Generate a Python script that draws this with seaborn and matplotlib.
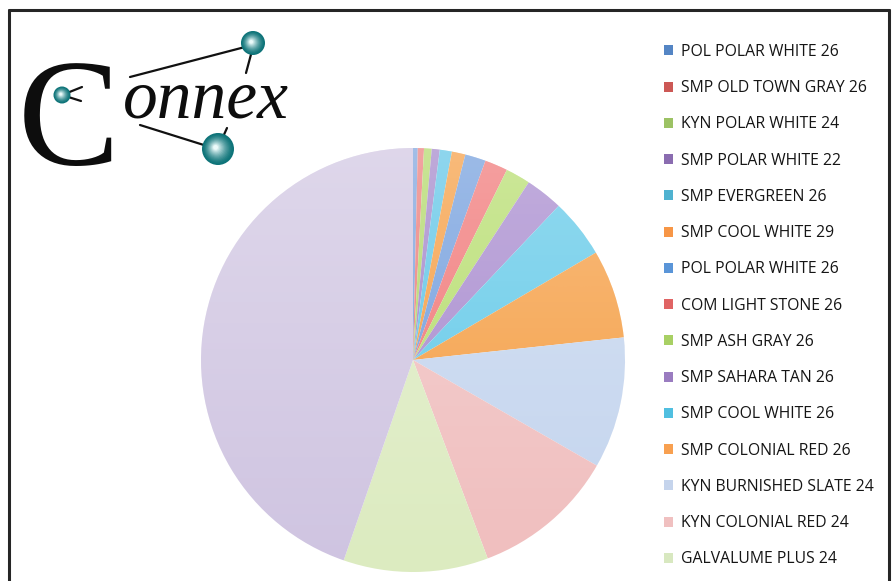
import numpy as np
import matplotlib
matplotlib.use("Agg")
import matplotlib.pyplot as plt
import seaborn as sns
from matplotlib.patches import Patch, Circle
from matplotlib.lines import Line2D

# ---- data -------------------------------------------------------------
labels = [
    "POL POLAR WHITE 26", "SMP OLD TOWN GRAY 26", "KYN POLAR WHITE 24",
    "SMP POLAR WHITE 22", "SMP EVERGREEN 26", "SMP COOL WHITE 29",
    "POL POLAR WHITE 26", "COM LIGHT STONE 26", "SMP ASH GRAY 26",
    "SMP SAHARA TAN 26", "SMP COOL WHITE 26", "SMP COLONIAL RED 26",
    "KYN BURNISHED SLATE 24", "KYN COLONIAL RED 24", "GALVALUME PLUS 24",
    "",
]
shares = [0.36, 0.47, 0.58, 0.61, 0.92, 1.03, 1.58, 1.75, 1.89, 2.86,
          4.50, 6.75, 10.00, 10.97, 11.03, 44.70]

wedge_colors = [
    "#78a0dc", "#eb7876", "#afd764", "#a082c8", "#5ac3e6", "#f59a3c",
    "#6e9bdc", "#f07373", "#b4dc69", "#a587cd", "#5fc8e8", "#f59c40",
    "#c3d4ee", "#f0bebe", "#dcebc0", "#cfc4e1",
]
swatch_colors = [
    "#5485c4", "#cc5855", "#9cc264", "#8a6cb0", "#4fb2d0", "#f79646",
    "#5a95d8", "#e06464", "#a8d064", "#9a7cc0", "#50bfe0", "#f8a050",
    "#c5d4ec", "#f0c0c0", "#d8e8c0",
]

# ---- figure -----------------------------------------------------------
sns.set_theme(style="white")
plt.rcParams["font.family"] = ["Open Sans", "DejaVu Sans"]

W, H = 895, 581
fig = plt.figure(figsize=(W / 100, H / 100), dpi=100)
fig.patch.set_facecolor("white")

def fx(px):
    return px / W

def fy(py):
    return 1 - py / H

# pie placed by its centre and radius in pixels
cx, cy, r = 413, 360, 212
ax = fig.add_axes([fx(cx - r), fy(cy + r), 2 * r / W, 2 * r / H])
wedges, _ = ax.pie(shares, colors=wedge_colors, startangle=90,
                   counterclock=False, radius=1.0,
                   wedgeprops=dict(linewidth=0))

# soft vertical sheen over the pie, lighter towards the top
grad = np.zeros((256, 2, 4))
grad[..., :3] = 1.0
grad[..., 3] = np.linspace(0.32, 0.0, 256)[:, None]
img = ax.imshow(grad, extent=(-1, 1, -1, 1), origin="upper",
                aspect="auto", zorder=3, interpolation="bilinear")
img.set_clip_path(Circle((0, 0), 1.0, transform=ax.transData))
ax.set_xlim(-1, 1)
ax.set_ylim(-1, 1)
ax.set_aspect("equal")
ax.axis("off")

# ---- legend -----------------------------------------------------------
handles = [Patch(facecolor=c, edgecolor="none") for c in swatch_colors]
fs = 11.3
leg = fig.legend(handles, labels[:15], loc="upper left",
                 bbox_to_anchor=(fx(664), fy(44)), frameon=False,
                 fontsize=fs, handlelength=0.6, handleheight=0.6,
                 handletextpad=0.5, labelspacing=1.29,
                 borderpad=0, borderaxespad=0)
for t in leg.get_texts():
    t.set_color("#151515")

# ---- frame ------------------------------------------------------------
frame_kw = dict(color="#262626", linewidth=2.2, transform=fig.transFigure)
fig.add_artist(Line2D([fx(9), fx(9)], [fy(10), 0], **frame_kw))
fig.add_artist(Line2D([fx(9), fx(889)], [fy(10), fy(10)], **frame_kw))
fig.add_artist(Line2D([fx(889), fx(889)], [fy(10), 0], **frame_kw))

# ---- logo -------------------------------------------------------------
logo = fig.add_axes([0, 0, 1, 1], zorder=5)
logo.set_xlim(0, W)
logo.set_ylim(H, 0)
logo.axis("off")

link_kw = dict(color="#111111", linewidth=1.6, solid_capstyle="round")
logo.plot([130, 245], [77, 47], **link_kw)
logo.plot([253, 246], [47, 73], **link_kw)
logo.plot([62, 82], [95, 87], **link_kw)
logo.plot([62, 81], [95, 101], **link_kw)
logo.plot([140, 207], [125, 146], **link_kw)
logo.plot([218, 227], [148, 128], **link_kw)

logo.text(18, 165, "C", fontsize=110, family="Liberation Serif",
          color="#0d0d0d", va="baseline", ha="left")
logo.text(123, 118, "onnex", fontsize=50, family="Liberation Serif",
          style="italic", color="#0d0d0d", va="baseline", ha="left")

def ball(x, y, rad):
    dark = np.array([0.05, 0.45, 0.47])
    light = np.array([0.92, 0.98, 0.98])
    n = 14
    for i in range(n):
        t = i / (n - 1)
        rr = rad * (1 - 0.85 * t)
        col = dark * (1 - t ** 1.5) + light * t ** 1.5
        logo.add_patch(Circle((x - 0.15 * rad * t, y - 0.1 * rad * t), rr,
                              facecolor=col, edgecolor="none", zorder=6))

ball(62, 95, 8.5)
ball(253, 43, 12)
ball(218, 149, 16)

fig.savefig("out.png", dpi=100)
